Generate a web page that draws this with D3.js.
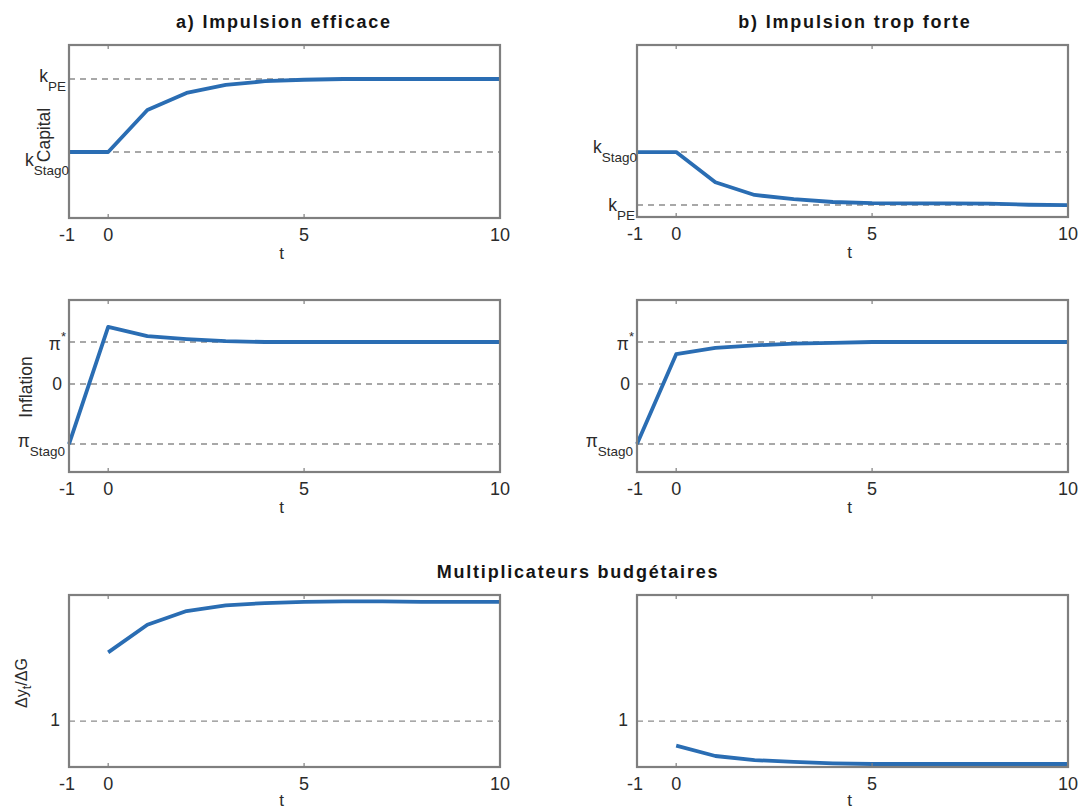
<!DOCTYPE html>
<html>
<head>
<meta charset="utf-8">
<script src="https://cdn.jsdelivr.net/npm/d3@7"></script>
<style>
  html, body { margin: 0; padding: 0; background: #fff; }
  svg { display: block; font-family: "Liberation Sans", Arial, Helvetica, sans-serif; }
</style>
</head>
<body>
<svg id="chart" width="1083" height="809"></svg>
<script>
// Periods on the horizontal axis
const periods = [-1, 0, 1, 2, 3, 4, 5, 6, 7, 8, 9, 10];
const multPeriods = [0, 1, 2, 3, 4, 5, 6, 7, 8, 9, 10];
const xTicks = [-1, 0, 5, 10];

// Capital path (k_Stag0 = 0, k_PE = 1 for the left panel; k_PE = 0, k_Stag0 = 1 on the right)
const capitalEfficace = [0, 0, 0.575, 0.81, 0.92, 0.97, 0.99, 1.0, 1.0, 1.0, 1.0, 1.0];
const capitalForte = [1, 1, 0.43, 0.19, 0.11, 0.057, 0.035, 0.03, 0.03, 0.025, 0.005, 0.0];

// Inflation path (0 = zero, 1 = π*, π_Stag0 = -1.43)
const inflationEfficace = [-1.43, 1.36, 1.14, 1.07, 1.02, 1.0, 1.0, 1.0, 1.0, 1.0, 1.0, 1.0];
const inflationForte = [-1.43, 0.71, 0.86, 0.92, 0.96, 0.98, 1.0, 1.0, 1.0, 1.0, 1.0, 1.0];

// Fiscal multipliers Δy_t/ΔG
const multEfficace = [1.60, 1.84, 1.96, 2.01, 2.03, 2.04, 2.045, 2.045, 2.04, 2.04, 2.04];
const multForte = [0.786, 0.696, 0.66, 0.644, 0.632, 0.626, 0.626, 0.626, 0.626, 0.626, 0.626];

// Reference levels; dy = baseline offset of the main glyph, sh = shift of the sub/superscript
const capitalRefsLeft = [
  { v: 1, dy: 3, end: 3, parts: [["k", "main"], ["PE", "sub"]] },
  { v: 0, dy: 14, end: 0, parts: [["k", "main"], ["Stag0", "sub"]] }
];
const capitalRefsRight = [
  { v: 1, dy: 1, end: 0, parts: [["k", "main"], ["Stag0", "sub"]] },
  { v: 0, dy: 6, end: 2, parts: [["k", "main"], ["PE", "sub"]] }
];
const inflationRefs = [
  { v: 1, dy: 8, end: 3, parts: [["π", "main"], ["*", "sup"]] },
  { v: 0, dy: 6, end: 7, parts: [["0", "main"]] },
  { v: -1.43, dy: 3, end: 4, parts: [["π", "main"], ["Stag0", "sub"]] }
];
const multRefs = [
  { v: 1, dy: 5, end: 9, parts: [["1", "main"]] }
];

const svg = d3.select("#chart");
const axisGrey = "#7f7f7f";
const textCol = "#2b2b2b";
const lineCol = "#2a6db3";

const colLeft = { x: 69, w: 431 };
const colRight = { x: 637, w: 431 };

function drawPanel(cfg) {
  const { col, top, h, yDomain, xs, ys, refs, tY } = cfg;
  const x = d3.scaleLinear().domain([-1, 10]).range([col.x, col.x + col.w]);
  const y = d3.scaleLinear().domain(yDomain).range([top + h, top]);
  const g = svg.append("g");

  // dashed reference lines
  refs.forEach(r => {
    g.append("line")
      .attr("x1", x(-1)).attr("x2", x(10))
      .attr("y1", y(r.v)).attr("y2", y(r.v))
      .attr("stroke", "#8c8c8c").attr("stroke-width", 1.4)
      .attr("stroke-dasharray", "6,5");
  });

  // series line
  const line = d3.line().x((d, i) => x(xs[i])).y(d => y(d));
  g.append("path").datum(ys)
    .attr("d", line)
    .attr("fill", "none")
    .attr("stroke", lineCol)
    .attr("stroke-width", 3.8)
    .attr("stroke-linejoin", "round");

  // box
  g.append("rect")
    .attr("x", col.x).attr("y", top)
    .attr("width", col.w).attr("height", h)
    .attr("fill", "none").attr("stroke", axisGrey).attr("stroke-width", 2.2);

  // x ticks (inside, top and bottom) and labels
  xTicks.forEach(t => {
    g.append("line").attr("x1", x(t)).attr("x2", x(t))
      .attr("y1", top + h).attr("y2", top + h - 4)
      .attr("stroke", axisGrey).attr("stroke-width", 1.2);
    g.append("line").attr("x1", x(t)).attr("x2", x(t))
      .attr("y1", top).attr("y2", top + 4)
      .attr("stroke", axisGrey).attr("stroke-width", 1.2);
    g.append("text")
      .attr("x", x(t) - (t < 0 ? 2 : 0)).attr("y", top + h + 23)
      .attr("text-anchor", "middle")
      .attr("font-size", 18)
      .attr("fill", textCol)
      .text(t);
  });

  // x-axis title
  g.append("text")
    .attr("x", x(4.5) - 3).attr("y", tY !== undefined ? tY : top + h + 41)
    .attr("text-anchor", "middle")
    .attr("font-size", 17)
    .attr("fill", textCol)
    .text("t");

  // y reference labels
  refs.forEach(r => {
    const txt = g.append("text")
      .attr("x", col.x - r.end)
      .attr("y", y(r.v) + r.dy)
      .attr("text-anchor", "end")
      .attr("fill", textCol);
    r.parts.forEach(([s, kind]) => {
      const ts = txt.append("tspan").text(s);
      if (kind === "main") {
        ts.attr("font-size", 17.5);
      } else if (kind === "sub") {
        ts.attr("font-size", 13.5).attr("dy", 8.5);
      } else {
        ts.attr("font-size", 13).attr("dy", -9);
      }
    });
  });
  return { x, y };
}

function yLabel(cx, cy, parts, size) {
  const t = svg.append("text")
    .attr("transform", `translate(${cx},${cy}) rotate(-90)`)
    .attr("text-anchor", "middle")
    .attr("dominant-baseline", "central")
    .attr("fill", textCol)
    .attr("font-size", size);
  parts.forEach(([s, kind]) => {
    const ts = t.append("tspan").text(s);
    if (kind === "sub") ts.attr("font-size", size * 0.8).attr("dy", 5);
    if (kind === "after") ts.attr("dy", -5);
  });
}

function title(cx, y, s) {
  svg.append("text").attr("x", cx).attr("y", y)
    .attr("text-anchor", "middle")
    .attr("font-size", 18).attr("font-weight", "bold")
    .attr("letter-spacing", 1.8)
    .attr("fill", "#151515")
    .text(s);
}

// Row 1: capital
drawPanel({ col: colLeft, top: 45, h: 173, yDomain: [-0.904, 1.466],
  xs: periods, ys: capitalEfficace, refs: capitalRefsLeft });
drawPanel({ col: colRight, top: 45, h: 172, yDomain: [-0.226, 3.02],
  xs: periods, ys: capitalForte, refs: capitalRefsRight });

// Row 2: inflation
drawPanel({ col: colLeft, top: 300, h: 172, yDomain: [-2.095, 2.0],
  xs: periods, ys: inflationEfficace, refs: inflationRefs });
drawPanel({ col: colRight, top: 300, h: 172, yDomain: [-2.095, 2.0],
  xs: periods, ys: inflationForte, refs: inflationRefs });

// Row 3: multipliers
drawPanel({ col: colLeft, top: 595, h: 172, yDomain: [0.6, 2.1],
  xs: multPeriods, ys: multEfficace, refs: multRefs, tY: 806 });
drawPanel({ col: colRight, top: 595, h: 172, yDomain: [0.6, 2.1],
  xs: multPeriods, ys: multForte, refs: multRefs, tY: 806 });

title(284, 28, "a) Impulsion efficace");
title(855, 28, "b) Impulsion trop forte");
title(578, 578, "Multiplicateurs budgétaires");

yLabel(44, 135, [["Capital", "main"]], 17.5);
yLabel(26, 387, [["Inflation", "main"]], 17.5);
yLabel(21, 683, [["Δy", "main"], ["t", "sub"], ["/ΔG", "after"]], 16);
</script>
</body>
</html>
